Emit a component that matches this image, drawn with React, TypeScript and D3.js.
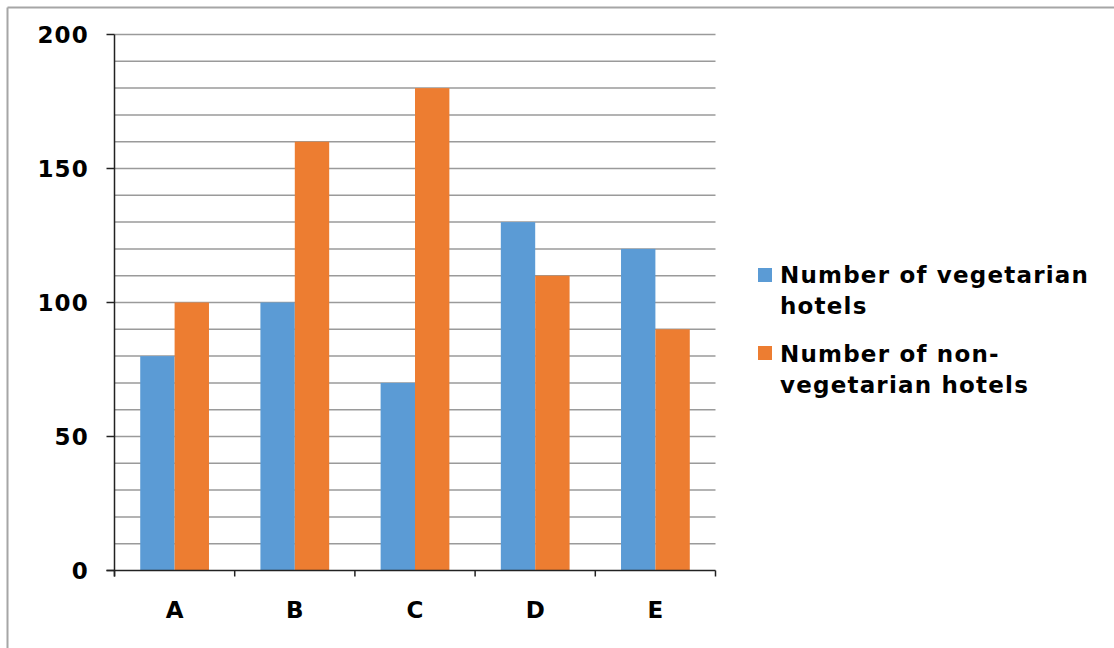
import React from "react";
import * as d3 from "d3";

const categories = ["A", "B", "C", "D", "E"];
const seriesNames = ["Number of vegetarian hotels", "Number of non-vegetarian hotels"];
const vegValues = [80, 100, 70, 130, 120];
const nonVegValues = [100, 160, 180, 110, 90];
const yTicks = [0, 50, 100, 150, 200];
const gridValues = d3.range(10, 201, 10);
const colors = ["#5B9BD5", "#ED7D31"];
const legendLines = [["Number of vegetarian", "hotels"], ["Number of non-", "vegetarian hotels"]];

const W = 1114, H = 648;
const left = 114.5, right = 715.5, top = 34.5, bottom = 570.5;
const font = "'DejaVu Sans', Verdana, sans-serif";
const fs = 23;
const ls = 1.2;

export default function App() {
  const y = d3.scaleLinear().domain([0, 200]).range([bottom, top]);
  const x = d3.scaleBand().domain(categories).range([left, right]).padding(0);
  const bw = x.bandwidth();
  const pad = bw * 0.214;
  const x1 = d3.scaleBand().domain(["veg", "nonveg"]).range([pad, bw - pad]).padding(0);
  const data = categories.map((c, i) => ({ c, veg: vegValues[i], nonveg: nonVegValues[i] }));
  const boundaries = categories.map((c) => x(c)!).concat([right]);

  return (
    <svg width={W} height={H} style={{ position: "absolute", left: 0, top: 0, background: "#fff" }}>
      <line x1={7.5} y1={7.5} x2={W} y2={7.5} stroke="#a6a6a6" strokeWidth={2} />
      <line x1={7.5} y1={7.5} x2={7.5} y2={H} stroke="#a6a6a6" strokeWidth={2} />
      {gridValues.map((v) => (
        <line key={v} x1={left} x2={right} y1={y(v)} y2={y(v)} stroke="#9a9a9a" strokeWidth={1.5} />
      ))}
      {data.map((d) => (
        <g key={d.c} transform={`translate(${x(d.c)},0)`}>
          <rect x={x1("veg")} y={y(d.veg)} width={x1.bandwidth()} height={y(0) - y(d.veg)} fill={colors[0]} />
          <rect x={x1("nonveg")} y={y(d.nonveg)} width={x1.bandwidth()} height={y(0) - y(d.nonveg)} fill={colors[1]} />
        </g>
      ))}
      <line x1={left} x2={left} y1={top} y2={bottom + 6} stroke="#222" strokeWidth={1.5} />
      <line x1={left - 8} x2={right} y1={bottom} y2={bottom} stroke="#222" strokeWidth={1.5} />
      {yTicks.map((t) => (
        <g key={t}>
          <line x1={left - 8} x2={left} y1={y(t)} y2={y(t)} stroke="#222" strokeWidth={1.5} />
          <text x={89} y={y(t)} dy="0.36em" textAnchor="end" fontFamily={font} fontWeight="bold" fontSize={fs} letterSpacing={ls} fill="#000">
            {t}
          </text>
        </g>
      ))}
      {boundaries.map((b, i) => (
        <line key={i} x1={b} x2={b} y1={bottom} y2={bottom + 6} stroke="#222" strokeWidth={1.5} />
      ))}
      {categories.map((c) => (
        <text key={c} x={x(c)! + bw / 2} y={618} textAnchor="middle" fontFamily={font} fontWeight="bold" fontSize={fs} fill="#000">
          {c}
        </text>
      ))}
      {seriesNames.map((s, i) => (
        <g key={s}>
          <rect x={758} y={268 + i * 78} width={14} height={14} fill={colors[i]} />
          {legendLines[i].map((ln, j) => (
            <text key={j} x={780} y={283 + i * 79 + j * 31} fontFamily={font} fontWeight="bold" fontSize={fs} letterSpacing={ls} fill="#000">
              {ln}
            </text>
          ))}
        </g>
      ))}
    </svg>
  );
}
